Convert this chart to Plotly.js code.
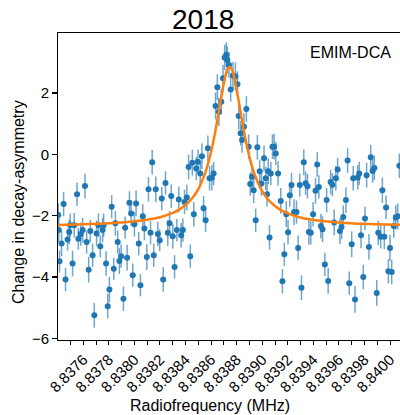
<!DOCTYPE html>
<html>
<head>
<meta charset="utf-8">
<script src="https://cdn.plot.ly/plotly-3.0.1.min.js"></script>
<style>html,body{margin:0;padding:0;background:#fff;}#chart{width:400px;height:415px;}</style>
</head>
<body>
<div id="chart"></div>
<script>
// Measured data (frequency in MHz, change in decay-asymmetry, uncertainty)
const freq = [
8.837404, 8.837408, 8.837414, 8.837430, 8.837446, 8.837461, 8.837477, 8.837490, 8.837498, 8.837516,
8.837529, 8.837551, 8.837561, 8.837580, 8.837595, 8.837613, 8.837626, 8.837642, 8.837655, 8.837673,
8.837686, 8.837704, 8.837718, 8.837733, 8.837751, 8.837759, 8.837778, 8.837791, 8.837804, 8.837822,
8.837838, 8.837851, 8.837869, 8.837882, 8.837896, 8.837914, 8.837927, 8.837943, 8.837961, 8.837974,
8.837987, 8.838000, 8.838013, 8.838034, 8.838047, 8.838065, 8.838078, 8.838097, 8.838110, 8.838126,
8.838139, 8.838151, 8.838167, 8.838183, 8.838198, 8.838214, 8.838225, 8.838243, 8.838261, 8.838275,
8.838288, 8.838300, 8.838314, 8.838332, 8.838347, 8.838366, 8.838379, 8.838392, 8.838410, 8.838424,
8.838437, 8.838453, 8.838465, 8.838484, 8.838497, 8.838515, 8.838528, 8.838541, 8.838557, 8.838575,
8.838588, 8.838606, 8.838620, 8.838635, 8.838649, 8.838661, 8.838680, 8.838693, 8.838706, 8.838719,
8.838727, 8.838740, 8.838753, 8.838771, 8.838790, 8.838806, 8.838816, 8.838831, 8.838842, 8.838857,
8.838876, 8.838894, 8.838906, 8.838920, 8.838933, 8.838949, 8.838962, 8.838980, 8.838994, 8.839014,
8.839027, 8.839038, 8.839047, 8.839057, 8.839067, 8.839080, 8.839093, 8.839106, 8.839124, 8.839145,
8.839158, 8.839173, 8.839188, 8.839202, 8.839216, 8.839229, 8.839249, 8.839268, 8.839281, 8.839294,
8.839307, 8.839325, 8.839339, 8.839354, 8.839365, 8.839380, 8.839398, 8.839417, 8.839430, 8.839443,
8.839459, 8.839472, 8.839490, 8.839504, 8.839516, 8.839535, 8.839549, 8.839563, 8.839576, 8.839590,
8.839608, 8.839621, 8.839634, 8.839655, 8.839668, 8.839681, 8.839700, 8.839712, 8.839726, 8.839747,
8.839759, 8.839773, 8.839791, 8.839804, 8.839817, 8.839835, 8.839849, 8.839864, 8.839877, 8.839896,
8.839908, 8.839927, 8.839940, 8.839955, 8.839969, 8.839987, 8.840000, 8.840013, 8.840029, 8.840045,
8.840060, 8.840073
];
const asym = [
-1.98, -2.47, -3.49, -2.91, -1.62, -4.08, -2.78, -2.53, -2.31, -3.56,
-2.31, -1.30, -2.75, -2.60, -2.47, -1.03, -2.86, -3.76, -2.50, -3.29,
-5.25, -2.58, -2.31, -3.00, -2.47, -2.31, -3.56, -4.95, -4.41, -1.71,
-3.73, -2.25, -2.86, -3.48, -3.32, -4.71, -2.39, -3.37, -1.58, -1.93,
-3.94, -2.28, -1.60, -2.91, -4.27, -2.02, -2.42, -3.35, -1.14, -2.56,
-0.26, -3.29, -1.14, -2.60, -2.80, -1.44, -4.08, -0.93, -2.56, -2.25,
-1.36, -2.67, -3.67, -2.47, -1.47, -2.64, -2.47, -1.55, -1.41, -0.41,
-3.32, -0.27, -1.95, -0.46, -0.24, -0.62, -0.06, -1.76, -2.15, 0.20,
-0.78, -0.76, -0.62, 1.58, 2.19, 1.39, 1.72, 2.48, 3.16, 3.25,
3.08, 2.92, 2.12, 2.57, 2.54, 2.29, 1.25, 0.69, 0.47, 0.90,
1.48, 0.25, -0.97, -0.73, -1.17, -2.15, 0.23, -0.55, -0.95, -0.13,
-0.78, -1.30, -0.55, -2.71, -0.62, 0.25, 0.25, 0.03, -0.62, -1.52,
-4.14, -3.26, -1.95, -2.54, -1.33, -1.00, -1.88, -1.88, -3.05, -1.00,
-4.35, -0.26, -0.94, -1.04, -2.53, -2.56, -1.95, -1.19, -0.33, -1.06,
-2.34, -2.44, -3.59, -1.49, -4.13, -0.90, -0.99, -2.22, -0.78, -0.49,
-2.50, -2.37, -2.04, -1.49, -0.20, -4.20, -2.93, -0.78, -4.73, -0.75,
-0.62, -2.64, -4.00, -2.09, -0.68, -3.02, -0.09, -0.54, -0.44, -4.52,
-2.56, -2.69, -1.17, -2.69, -1.73, -3.81, -3.05, -3.84, -2.34, -2.06,
-2.02, -0.37
];
const asymErr = [
0.38, 0.40, 0.36, 0.42, 0.40, 0.38, 0.36, 0.40, 0.38, 0.42,
0.40, 0.38, 0.36, 0.38, 0.40, 0.40, 0.38, 0.42, 0.36, 0.38,
0.40, 0.42, 0.38, 0.36, 0.40, 0.38, 0.40, 0.40, 0.42, 0.38,
0.36, 0.40, 0.38, 0.42, 0.38, 0.40, 0.36, 0.42, 0.38, 0.40,
0.38, 0.40, 0.42, 0.38, 0.36, 0.40, 0.38, 0.42, 0.40, 0.38,
0.40, 0.38, 0.42, 0.40, 0.36, 0.38, 0.40, 0.38, 0.42, 0.40,
0.38, 0.40, 0.38, 0.36, 0.42, 0.40, 0.38, 0.40, 0.42, 0.40,
0.38, 0.42, 0.40, 0.38, 0.40, 0.38, 0.42, 0.40, 0.38, 0.42,
0.40, 0.42, 0.38, 0.44, 0.42, 0.46, 0.42, 0.44, 0.42, 0.40,
0.44, 0.42, 0.40, 0.44, 0.46, 0.42, 0.44, 0.40, 0.42, 0.44,
0.42, 0.40, 0.38, 0.40, 0.42, 0.38, 0.40, 0.38, 0.40, 0.42,
0.38, 0.40, 0.42, 0.40, 0.38, 0.40, 0.42, 0.38, 0.40, 0.42,
0.40, 0.38, 0.42, 0.40, 0.38, 0.40, 0.42, 0.38, 0.40, 0.38,
0.40, 0.42, 0.38, 0.40, 0.42, 0.38, 0.40, 0.42, 0.40, 0.38,
0.40, 0.42, 0.38, 0.40, 0.42, 0.40, 0.38, 0.42, 0.40, 0.38,
0.42, 0.40, 0.38, 0.42, 0.40, 0.38, 0.42, 0.40, 0.44, 0.40,
0.38, 0.42, 0.40, 0.38, 0.40, 0.42, 0.40, 0.38, 0.40, 0.42,
0.40, 0.38, 0.42, 0.40, 0.38, 0.40, 0.42, 0.40, 0.38, 0.40,
0.42, 0.40
];
// Fitted curve
const fitFreq = [8.83740, 8.83760, 8.83780, 8.83800, 8.83810, 8.83820, 8.83830, 8.83835, 8.83840, 8.83845,
  8.83850, 8.83853, 8.83856, 8.83859, 8.83862, 8.83865, 8.83868, 8.83871, 8.83873, 8.838745,
  8.83876, 8.83878, 8.83881, 8.83884, 8.83887, 8.83890, 8.83893, 8.83896, 8.83899, 8.83904,
  8.83909, 8.83914, 8.83919, 8.83929, 8.83939, 8.83949, 8.83969, 8.83989, 8.84009];
const fitVal = [-2.30, -2.28, -2.25, -2.18, -2.13, -2.05, -1.91, -1.80, -1.65, -1.44,
  -1.13, -0.86, -0.53, -0.09, 0.47, 1.15, 1.88, 2.53, 2.79, 2.85,
  2.79, 2.53, 1.88, 1.15, 0.47, -0.09, -0.53, -0.86, -1.13, -1.44,
  -1.65, -1.80, -1.91, -2.05, -2.13, -2.18, -2.25, -2.28, -2.30];

const titleText = "2018";
const sampleLabel = "EMIM-DCA";
const xLabel = "Radiofrequency (MHz)";
const yLabel = "Change in decay-asymmetry";

const FONT = "Liberation Sans, Arial, sans-serif";

const traces = [
  {
    type: "scatter", mode: "markers", x: freq, y: asym,
    marker: {color: "#1f77b4", size: 6},
    error_y: {type: "data", array: asymErr, visible: true, color: "rgba(31,119,180,0.65)", thickness: 1.5, width: 0},
    showlegend: false, hoverinfo: "skip"
  },
  {
    type: "scatter", mode: "lines", x: fitFreq, y: fitVal,
    line: {color: "#ff7f0e", width: 2.5, shape: "spline", smoothing: 1},
    showlegend: false, hoverinfo: "skip"
  }
];

const layout = {
  width: 400, height: 415,
  margin: {l: 58, r: 0, t: 33, b: 75, pad: 0},
  paper_bgcolor: "#fff", plot_bgcolor: "#fff",
  font: {family: FONT, color: "#000", size: 14},
  title: {text: titleText, font: {family: FONT, size: 28, color: "#000"},
          xref: "container", x: 0.508, xanchor: "center", yref: "container", y: 0.978, yanchor: "top"},
  xaxis: {
    range: [8.837402, 8.840078],
    tick0: 8.8376, dtick: 0.0002, tickformat: ".4f",
    ticks: "outside", ticklen: 4, tickwidth: 1, tickcolor: "#000",
    tickangle: -45, tickfont: {family: FONT, size: 15, color: "#000"},
    minor: {tick0: 8.8376, dtick: 0.0001, ticks: "outside", ticklen: 4, tickwidth: 1, tickcolor: "#000", showgrid: false},
    showline: true, linecolor: "#000", linewidth: 1, mirror: true,
    showgrid: false, zeroline: false
  },
  yaxis: {
    range: [-6.055, 3.96],
    tick0: 0, dtick: 2,
    ticks: "outside", ticklen: 5, tickwidth: 1.2, tickcolor: "#000",
    tickfont: {family: FONT, size: 15, color: "#000"},
    showline: true, linecolor: "#000", linewidth: 1, mirror: false,
    showgrid: false, zeroline: false
  },
  annotations: [
    {text: sampleLabel, xref: "paper", yref: "paper", x: 0.854, y: 0.935, xanchor: "center", yanchor: "middle",
     showarrow: false, font: {family: FONT, size: 16, color: "#000"}},
    {text: xLabel, xref: "paper", yref: "paper", x: (210 - 58) / 342, y: -(405 - 340) / 307, xanchor: "center", yanchor: "middle",
     showarrow: false, font: {family: FONT, size: 16, color: "#000"}},
    {text: yLabel, xref: "paper", yref: "paper", x: -(58 - 18) / 342, y: (340 - 202) / 307, xanchor: "center", yanchor: "middle",
     textangle: -90, showarrow: false, font: {family: FONT, size: 16, color: "#000"}}
  ]
};

Plotly.newPlot("chart", traces, layout, {displayModeBar: false, staticPlot: true});
</script>
</body>
</html>
